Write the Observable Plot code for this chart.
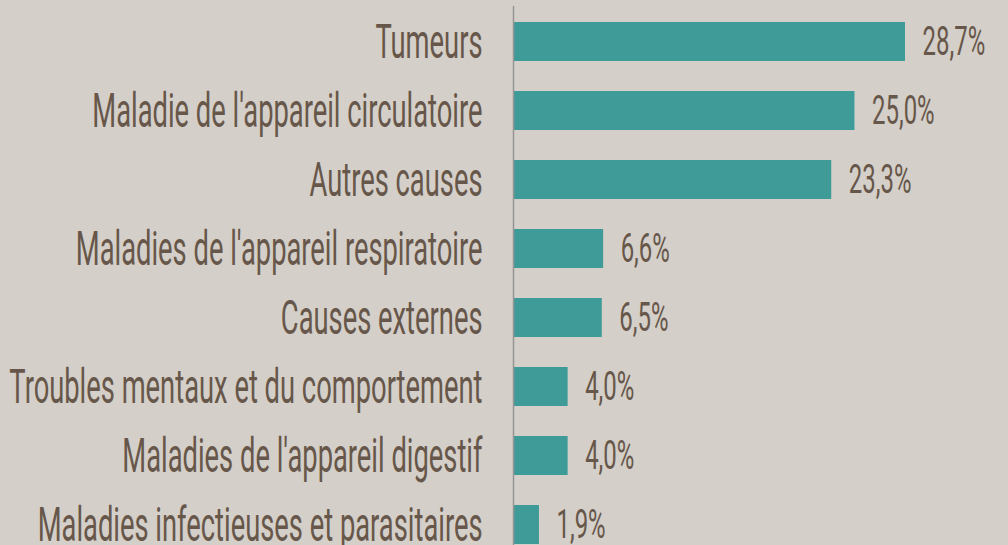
<!DOCTYPE html>
<html>
<head>
<meta charset="utf-8">
<script src="https://cdn.jsdelivr.net/npm/d3@7"></script>
<script src="https://cdn.jsdelivr.net/npm/@observablehq/plot@0.6"></script>
<style>
  html, body { margin: 0; padding: 0; background: #d4cfc9; overflow: hidden; }
</style>
</head>
<body>
<div id="chart"></div>
<script>
const causes = [
  "Tumeurs",
  "Maladie de l'appareil circulatoire",
  "Autres causes",
  "Maladies de l'appareil respiratoire",
  "Causes externes",
  "Troubles mentaux et du comportement",
  "Maladies de l'appareil digestif",
  "Maladies infectieuses et parasitaires"
];
const values = [28.7, 25.0, 23.3, 6.6, 6.5, 4.0, 4.0, 1.9];

const data = causes.map((c, i) => ({cause: c, value: values[i]}));
const fmt = v => v.toFixed(1).replace(".", ",") + "%";

const textColor = "#67574a";
const plot = Plot.plot({
  width: 1008,
  height: 545,
  marginLeft: 513,
  marginRight: 103,
  marginTop: 6,
  marginBottom: 0,
  style: {background: "#d4cfc9", fontFamily: "Roboto"},
  x: {domain: [0, 28.7], axis: null},
  y: {domain: causes, range: [14.2, 552.6], paddingInner: 0.436, paddingOuter: 0.1, axis: null},
  marks: [
    Plot.barX(data, {x: "value", y: "cause", fill: "#3f9b98"}),
    Plot.ruleX([0], {stroke: "#959595", strokeWidth: 1.5}),
    Plot.text(data, {x: 0, y: "cause", text: "cause", textAnchor: "end", dx: -31, fontSize: 49, fill: textColor}),
    Plot.text(data, {x: "value", y: "cause", text: d => fmt(d.value), textAnchor: "start", dx: 17, fontSize: 41, fill: textColor})
  ]
});
document.getElementById("chart").appendChild(plot);

const groups = plot.querySelectorAll('g[aria-label="text"]');
const scales = [0.558, 0.585];
groups.forEach((g, gi) => {
  g.querySelectorAll("text").forEach(t => {
    const tr = t.getAttribute("transform") || "";
    t.setAttribute("transform", tr + ` scale(${scales[gi]},1)`);
  });
});
</script>
</body>
</html>
